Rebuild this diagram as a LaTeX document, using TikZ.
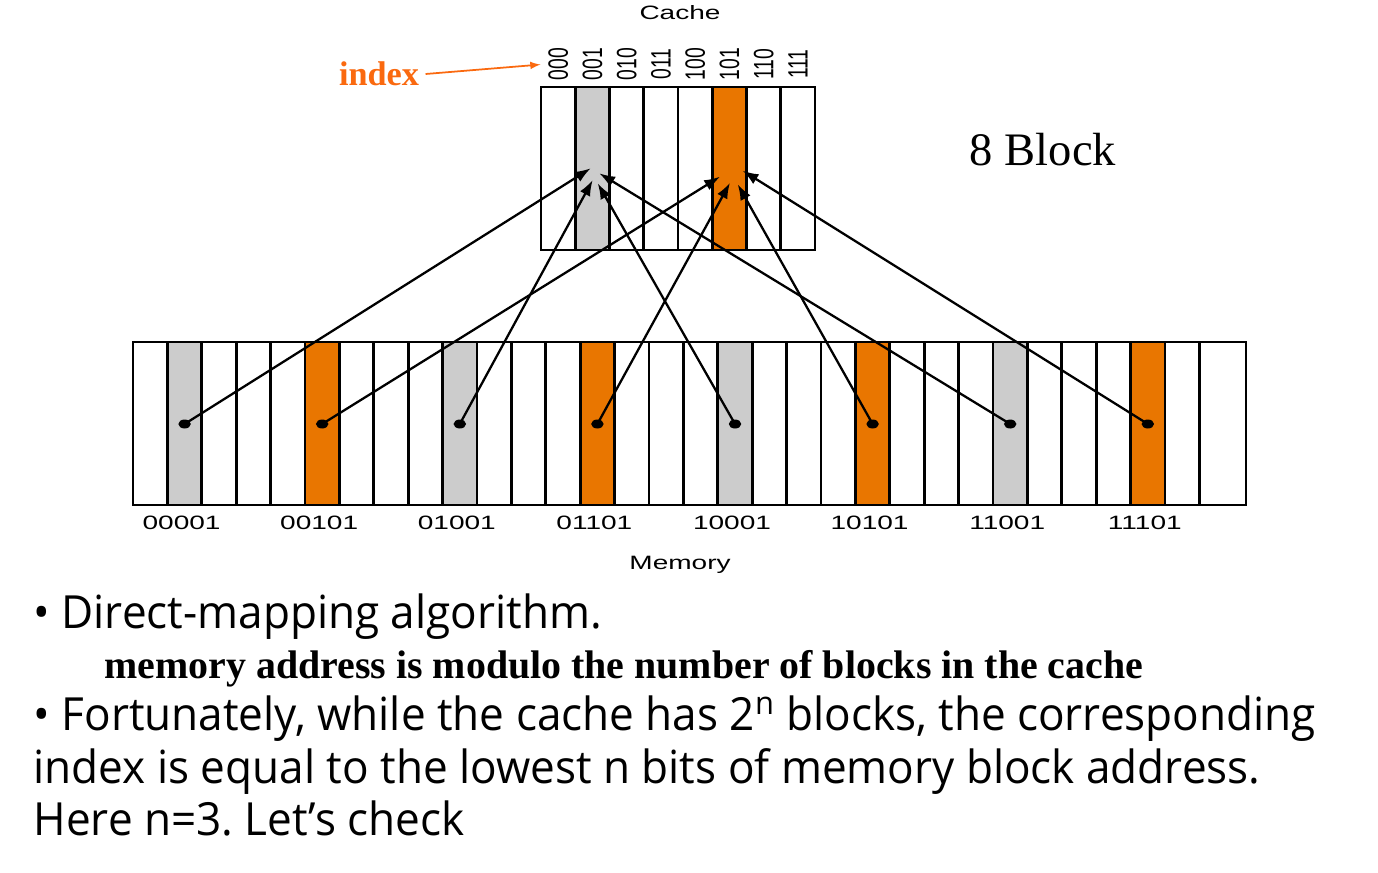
\documentclass[tikz,border=0pt]{standalone}
\usepackage{fontspec}
\usepackage{graphicx}
\usetikzlibrary{positioning, arrows.meta, calc, shapes}

\newfontfamily\labelfont{Liberation Sans}
\newfontfamily\timesfont{Liberation Serif}
\newfontfamily\notefont[FakeStretch=0.965]{Open Sans}

\definecolor{blockorange}{RGB}{233,118,0}
\definecolor{blockgray}{RGB}{204,204,204}
\definecolor{indexorange}{RGB}{250,105,15}

\newcommand{\wide}[1]{\scalebox{1.45}[1]{#1}}
\newcommand{\tall}[1]{\scalebox{1}[1.45]{#1}}

\frenchspacing

\begin{document}
\begin{tikzpicture}[x=0.02cm, y=-0.02cm, >=latex, thick,
    cell/.style={draw, line width=1.6pt},
    dot/.style={ellipse, fill, inner sep=0pt, minimum width=0.25cm, minimum height=0.18cm},
    map/.style={-{Latex[length=9pt,width=6.5pt]}, line width=1.3pt},
    addr/.style={font=\labelfont\fontsize{11}{13}\selectfont, inner sep=0pt},
    note/.style={anchor=base west, inner sep=0pt, font=\notefont\fontsize{26}{30}\selectfont}]

	\useasboundingbox (0,0) rectangle (1378,872);

	% cache with 8 blocks
	\fill[blockgray] (575.25,87) rectangle ++(34.25,163);
	\fill[blockorange] (712,87) rectangle ++(34.25,163);
	\foreach \i in {1,...,7}
		\draw[cell] ({541+34.25*\i},87) -- ++(0,163);
	\draw[cell] (541,87) rectangle (815,250);
	\node[addr] (cache) at (680,13) {\wide{Cache}};
	\foreach \b [count=\i from 0] in {000,001,010,011,100,101,110,111}
		\node[addr, rotate=90] (idx\i) at ({541+34.25*(\i+0.5)},64) {\tall{\b}};

	\node[text=indexorange, font=\timesfont\bfseries\fontsize{19.5}{22}\selectfont] (index) at (379,74) {index};
	\draw[->, indexorange, line width=1pt, shorten >=4pt] (index.east) -- (idx0.north);

	\node[font=\timesfont\fontsize{26.5}{30}\selectfont] (nblock) at (1043,150) {8 Block};

	% memory with 32 blocks
	\foreach \k in {1,9,17,25}
		\fill[blockgray] ({133+34.4*\k},342) rectangle ++(34.4,163);
	\foreach \k in {5,13,21,29}
		\fill[blockorange] ({133+34.4*\k},342) rectangle ++(34.4,163);
	\foreach \k in {1,...,31}
		\draw[cell] ({133+34.4*\k},342) -- ++(0,163);
	\draw[cell] (133,342) rectangle (1246,505);
	\node[addr] (memory) at (680,565) {\wide{Memory}};

	\foreach \a [count=\i] in {00001,00101,01001,01101,10001,10101,11001,11101} {
		\node[dot] (m\i) at ({133+34.4*(4*\i-2.5)},424) {};
		\node[addr] (a\i) at ({133+34.4*(4*\i-2.5)-3},523) {\wide{\a}};
	}

	% where the arrows end in the cache
	\coordinate (g1) at (590.7,168.3);
	\coordinate (g2) at (592.7,180);
	\coordinate (g3) at (597.7,183.3);
	\coordinate (g4) at (599.3,173.3);
	\coordinate (o1) at (720,176.7);
	\coordinate (o2) at (730,182.7);
	\coordinate (o3) at (737.7,184.3);
	\coordinate (o4) at (742.7,170.7);

	\draw[map] (m1.center) -- (g1);
	\draw[map] (m3.center) -- (g2);
	\draw[map] (m5.center) -- (g3);
	\draw[map] (m7.center) -- (g4);
	\draw[map] (m2.center) -- (o1);
	\draw[map] (m4.center) -- (o2);
	\draw[map] (m6.center) -- (o3);
	\draw[map] (m8.center) -- (o4);

	% text below
	\node[note] (l1) at (33,628) {• Direct-mapping algorithm.};
	\node[note, font=\timesfont\bfseries\fontsize{22.7}{26}\selectfont] (l2) at (104,678) {memory address is modulo the number of blocks in the cache};
	\node[note] (l3) at (33,730) {• Fortunately, while the cache has 2\textsuperscript{n} blocks, the corresponding};
	\node[note] (l4) at (33,783) {index is equal to the lowest n bits of memory block address.};
	\node[note] (l5) at (33,835) {Here n=3. Let’s check};
\end{tikzpicture}
\end{document}
